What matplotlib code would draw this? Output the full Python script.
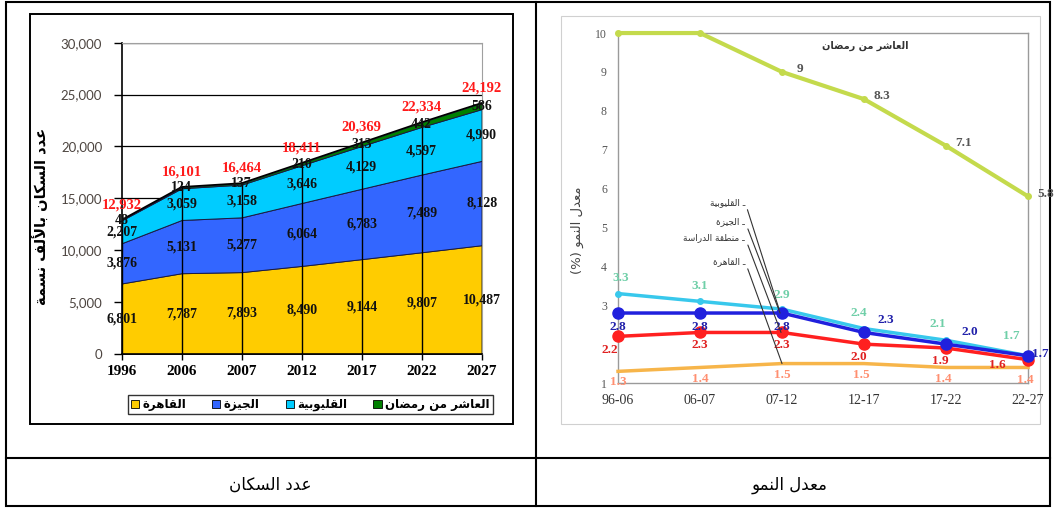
import numpy as np
import matplotlib.pyplot as plt
from matplotlib.patches import Rectangle, Patch

# ---- تشكيل الحروف العربية يدويا (matplotlib لا يربط الحروف) ----
FORMS = {
    'ا': ('\uFE8D', '\uFE8E', None, None),
    'أ': ('\uFE83', '\uFE84', None, None),
    'ب': ('\uFE8F', '\uFE90', '\uFE91', '\uFE92'),
    'ة': ('\uFE93', '\uFE94', None, None),
    'ت': ('\uFE95', '\uFE96', '\uFE97', '\uFE98'),
    'ج': ('\uFE9D', '\uFE9E', '\uFE9F', '\uFEA0'),
    'د': ('\uFEA9', '\uFEAA', None, None),
    'ر': ('\uFEAD', '\uFEAE', None, None),
    'ز': ('\uFEAF', '\uFEB0', None, None),
    'س': ('\uFEB1', '\uFEB2', '\uFEB3', '\uFEB4'),
    'ش': ('\uFEB5', '\uFEB6', '\uFEB7', '\uFEB8'),
    'ض': ('\uFEBD', '\uFEBE', '\uFEBF', '\uFEC0'),
    'ط': ('\uFEC1', '\uFEC2', '\uFEC3', '\uFEC4'),
    'ع': ('\uFEC9', '\uFECA', '\uFECB', '\uFECC'),
    'ف': ('\uFED1', '\uFED2', '\uFED3', '\uFED4'),
    'ق': ('\uFED5', '\uFED6', '\uFED7', '\uFED8'),
    'ك': ('\uFED9', '\uFEDA', '\uFEDB', '\uFEDC'),
    'ل': ('\uFEDD', '\uFEDE', '\uFEDF', '\uFEE0'),
    'م': ('\uFEE1', '\uFEE2', '\uFEE3', '\uFEE4'),
    'ن': ('\uFEE5', '\uFEE6', '\uFEE7', '\uFEE8'),
    'ه': ('\uFEE9', '\uFEEA', '\uFEEB', '\uFEEC'),
    'و': ('\uFEED', '\uFEEE', None, None),
    'ي': ('\uFEF1', '\uFEF2', '\uFEF3', '\uFEF4'),
}
LAM_ALEF = {'ا': ('\uFEFB', '\uFEFC'), 'أ': ('\uFEF7', '\uFEF8')}


def ar(text):
    chars = list(text)
    out = []
    i = 0
    n = len(chars)

    def joins_left(c):
        return c in FORMS and FORMS[c][2] is not None

    while i < n:
        c = chars[i]
        if c not in FORMS:
            out.append(c)
            i += 1
            continue
        prev = chars[i - 1] if i > 0 else None
        linked_prev = prev is not None and joins_left(prev)
        nxt = chars[i + 1] if i + 1 < n else None
        if c == 'ل' and nxt in LAM_ALEF:
            iso, fin = LAM_ALEF[nxt]
            out.append(fin if linked_prev else iso)
            i += 2
            continue
        linked_next = joins_left(c) and nxt in FORMS
        iso, fin, ini, med = FORMS[c]
        if linked_prev and linked_next:
            g = med
        elif linked_prev:
            g = fin
        elif linked_next:
            g = ini
        else:
            g = iso
        out.append(g)
        i += 1
    return ''.join(reversed(out))


# ---- البيانات ----
years = ['1996', '2006', '2007', '2012', '2017', '2022', '2027']
cairo = [6801, 7787, 7893, 8490, 9144, 9807, 10487]
giza = [3876, 5131, 5277, 6064, 6783, 7489, 8128]
qalyubia = [2207, 3059, 3158, 3646, 4129, 4597, 4990]
ramadan = [48, 124, 137, 210, 313, 442, 586]
totals = [12932, 16101, 16464, 18411, 20369, 22334, 24192]

periods = ['96-06', '06-07', '07-12', '12-17', '17-22', '22-27']
rate_ramadan = [10, 10, 9, 8.3, 7.1, 5.8]
rate_qalyubia = [3.3, 3.1, 2.9, 2.4, 2.1, 1.7]
rate_giza = [2.8, 2.8, 2.8, 2.3, 2.0, 1.7]
rate_study = [2.2, 2.3, 2.3, 2.0, 1.9, 1.6]
rate_cairo = [1.3, 1.4, 1.5, 1.5, 1.4, 1.4]

serif = 'Liberation Serif'
arfont = 'DejaVu Sans'

fig = plt.figure(figsize=(10.55, 5.09), dpi=100)

# ---- إطار الجدول ----
bg = fig.add_axes([0, 0, 1, 1])
bg.set_xlim(0, 1055)
bg.set_ylim(509, 0)
bg.axis('off')
bg.add_patch(Rectangle((6, 2), 1044, 504, fill=False, lw=1.5, ec='black'))
bg.plot([536, 536], [2, 506], color='black', lw=1.5)
bg.plot([6, 1050], [458, 458], color='black', lw=1.5)
bg.add_patch(Rectangle((30, 14), 483, 410, fill=False, lw=1.4, ec='black'))
bg.add_patch(Rectangle((561, 16), 479, 408, fill=False, lw=0.8, ec='#d0d0d0'))
bg.text(270, 485, ar('عدد السكان'), ha='center', va='center', fontsize=12, family=arfont)
bg.text(790, 485, ar('معدل النمو'), ha='center', va='center', fontsize=12, family=arfont)

# ---- عدد السكان: مساحات متراكمة ----
ax1 = fig.add_axes([0.1153, 0.3045, 0.3413, 0.6116])
x = np.arange(len(years))
cols = ['#FFCC00', '#3366FF', '#00CCFF', '#008000']
ax1.stackplot(x, cairo, giza, qalyubia, ramadan, colors=cols,
              edgecolor='#1a1a40', linewidth=0.7, zorder=2)
ax1.plot(x, totals, color='black', lw=1.2, zorder=3)
ax1.vlines(x, 0, totals, color='black', lw=1.0, zorder=3)
ax1.set_xlim(0, 6)
ax1.set_ylim(0, 30000)
ax1.set_yticks(range(0, 30001, 5000))
ax1.set_yticklabels([f'{v:,}' for v in range(0, 30001, 5000)],
                    family='Lato', fontsize=9.5, color='#4d4540')
ax1.set_xticks(x)
ax1.set_xticklabels(years, family=serif, fontweight='bold', fontsize=11)
ax1.tick_params(axis='y', length=6, width=1, pad=8)
ax1.tick_params(axis='x', length=4, width=1, pad=4)
ax1.yaxis.grid(True, color='black', lw=0.9)
ax1.set_axisbelow(True)
for s in ['top', 'right']:
    ax1.spines[s].set_color('#a0a0a0')
ax1.spines['left'].set_linewidth(1.2)
ax1.spines['bottom'].set_linewidth(1.2)

bottoms = np.zeros(len(years))
for layer in [cairo, giza, qalyubia, ramadan]:
    layer = np.array(layer)
    for xi, b, v in zip(x, bottoms, layer):
        ax1.text(xi, b + v / 2, f'{v:,}', ha='center', va='center', family=serif,
                 fontweight='bold', fontsize=10, color='#111111', zorder=5)
    bottoms = bottoms + layer
for xi, t in zip(x, totals):
    ax1.annotate(f'{t:,}', (xi, t), xytext=(0, 11), textcoords='offset points',
                 ha='center', va='center', family=serif, fontweight='bold',
                 fontsize=10.5, color='#ff1a1a', zorder=5)

fig.text(0.040, 0.574, ar('عدد السكان بالألف نسمة'), rotation=90, ha='center',
         va='center', fontsize=10.5, fontweight='bold', family=arfont)

handles = [Patch(facecolor=c, edgecolor='black', lw=0.6) for c in cols]
names = [ar('القاهرة'), ar('الجيزة'), ar('القليوبية'), ar('العاشر من رمضان')]
leg = fig.legend(handles, names, loc='center', bbox_to_anchor=(0.294, 0.205), ncol=4,
                 frameon=True, fancybox=False, edgecolor='black', handlelength=0.7,
                 handleheight=0.7, handletextpad=0.3, columnspacing=2.2,
                 borderpad=0.25, prop={'family': arfont, 'size': 8.5, 'weight': 'bold'})
leg.get_frame().set_linewidth(1.0)

# ---- معدل النمو: خطوط ----
ax2 = fig.add_axes([0.5858, 0.2475, 0.3886, 0.6876])
xp = np.arange(len(periods))
ax2.set_xlim(0, 5)
ax2.set_ylim(1, 10)
ax2.set_yticks(range(1, 11))
# the "2" tick sits under the 2.2 value label, so it is left blank
ax2.set_yticklabels(['' if v == 2 else str(v) for v in range(1, 11)],
                    family=serif, fontsize=8.5, color='#555555')
ax2.set_xticks(xp)
ax2.set_xticklabels(periods, family=serif, fontsize=10, color='#333333')
ax2.tick_params(length=0, pad=8)
for s in ax2.spines.values():
    s.set_color('#9a9a9a')
    s.set_linewidth(1.0)

ax2.plot(xp, rate_ramadan, color='#c4da4c', lw=3, marker='o', ms=4, clip_on=False, zorder=3)
ax2.plot(xp, rate_cairo, color='#f7b54a', lw=2.5, clip_on=False, zorder=3)
ax2.plot(xp, rate_qalyubia, color='#38c8ec', lw=2.5, marker='o', ms=4, clip_on=False, zorder=3)
ax2.plot(xp, rate_study, color='#ff2020', lw=2.5, marker='o', ms=8, clip_on=False, zorder=4)
ax2.plot(xp, rate_giza, color='#2020dd', lw=2.5, marker='o', ms=8, clip_on=False, zorder=5)

lab = dict(textcoords='offset points', ha='center', va='center', family=serif,
           fontweight='bold', fontsize=9.5, annotation_clip=False, zorder=6)
for i in range(2, 6):
    ax2.annotate(f'{rate_ramadan[i]:g}', (xp[i], rate_ramadan[i]), xytext=(13, 2),
                 color='#555555', **lab)
cyan_off = [(2, 11), (0, 11), (0, 10), (-4, 11), (-6, 12), (-12, 14)]
blue_off = [(0, -10), (0, -10), (0, -10), (16, 9), (17, 9), (9, 1)]
red_off = [(-6, -10), (0, -9), (0, -9), (-4, -9), (-4, -9), (-22, -4)]
orange_off = [(0, -8), (0, -8), (0, -8), (-2, -8), (-2, -8), (-2, -9)]
for vals, offs, col in [(rate_qalyubia, cyan_off, '#6fcfa8'),
                        (rate_giza, blue_off, '#2020aa'),
                        (rate_study, red_off, '#e02020'),
                        (rate_cairo, orange_off, '#ff8f70')]:
    for xi, v, o in zip(xp, vals, offs):
        ax2.annotate(f'{v:.1f}', (xi, v), xytext=o, color=col, **lab)

ax2.text(0.602, 0.963, ar('العاشر من رمضان'), transform=ax2.transAxes, ha='center',
         va='center', fontsize=7, family=arfont, fontweight='bold', color='#333333')

leader = [(ar('القليوبية'), 0.516, rate_qalyubia[2]),
          (ar('الجيزة'), 0.461, rate_giza[2]),
          (ar('منطقة الدراسة'), 0.415, rate_study[2]),
          (ar('القاهرة'), 0.347, rate_cairo[2])]
for k, (txt, yf, v) in enumerate(leader):
    ax2.annotate(txt + ' ـ', (xp[2] - 0.04 * (3 - k) * 0.3, v), xytext=(0.31, yf),
                 textcoords='axes fraction', ha='right', va='center', fontsize=6.5,
                 family=arfont, color='#333333',
                 arrowprops=dict(arrowstyle='-', color='#333333', lw=0.8,
                                 shrinkA=0, shrinkB=0, relpos=(1, 0.5)), zorder=7)

fig.text(0.547, 0.548, '(%) ' + ar('معدل النمو'), rotation=90, ha='center', va='center',
         fontsize=9.5, family=arfont, color='#444444')

fig.savefig('out.png', dpi=100)
